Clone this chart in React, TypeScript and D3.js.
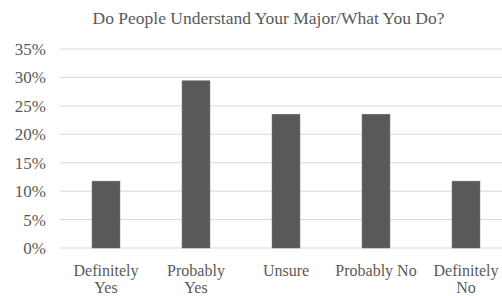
import React from "react";
import * as d3 from "d3";

const categories = [["Definitely", "Yes"], ["Probably", "Yes"], ["Unsure"], ["Probably No"], ["Definitely", "No"]];
const categoryKeys = ["Definitely Yes", "Probably Yes", "Unsure", "Probably No", "Definitely No"];
const values = [0.1176, 0.2941, 0.2353, 0.2353, 0.1176];
const yTicks = [0, 0.05, 0.1, 0.15, 0.2, 0.25, 0.3, 0.35];
const title = "Do People Understand Your Major/What You Do?";

const W = 502;
const H = 296;
const font = "Liberation Serif, DejaVu Serif, serif";
const textColor = "#595959";

export default function App() {
  const x = d3.scaleBand<string>().domain(categoryKeys).range([61, 511]).paddingInner(0.69).paddingOuter(0.345);
  const y = d3.scaleLinear().domain([0, 0.35]).range([248, 49]);
  const fmt = d3.format(".0%");
  return (
    <svg width={W} height={H} style={{ position: "absolute", left: 0, top: 0, background: "#fff", fontFamily: font }}>
      <text x={268.5} y={24} textAnchor="middle" fontSize={17.5} fill={textColor} style={{ fontFamily: font }}>{title}</text>
      {yTicks.map((t) => (
        <g key={t}>
          <line x1={60} x2={W} y1={y(t)} y2={y(t)} stroke="#d9d9d9" strokeWidth={1} />
          <text x={46} y={y(t)} dy="0.35em" textAnchor="end" fontSize={17} fill={textColor} style={{ fontFamily: font }}>{fmt(t)}</text>
        </g>
      ))}
      {categoryKeys.map((c, i) => (
        <rect key={c} x={x(c)} y={y(values[i])} width={x.bandwidth()} height={y(0) - y(values[i])} fill="#595959" stroke="#6a6a6a" strokeWidth={0.5} />
      ))}
      {categoryKeys.map((c, i) => {
        const cx = (x(c) as number) + x.bandwidth() / 2;
        return (
          <text key={c} x={cx} y={276} textAnchor="middle" fontSize={16} fill={textColor} style={{ fontFamily: font }}>
            {categories[i].map((line, j) => (
              <tspan key={j} x={cx} dy={j === 0 ? 0 : 17}>{line}</tspan>
            ))}
          </text>
        );
      })}
    </svg>
  );
}
